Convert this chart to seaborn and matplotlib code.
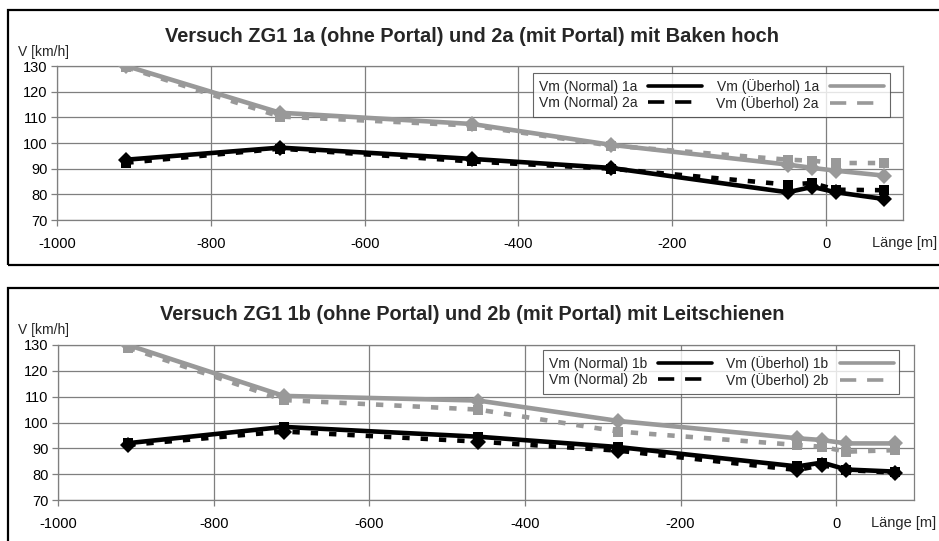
import matplotlib
matplotlib.use("Agg")
import matplotlib.pyplot as plt
from matplotlib.lines import Line2D
from matplotlib.patches import Rectangle
import seaborn as sns
import pandas as pd

# ---------------- data ----------------
laenge = [-910, -710, -460, -280, -50, -18, 13, 75]

# panel a
norm_1a = [93.5, 98.2, 93.8, 90.3, 80.8, 82.9, 80.8, 78.2]
norm_2a = [92.3, 97.8, 92.8, 90.0, 83.8, 84.4, 81.8, 81.6]
uber_1a = [130.0, 111.8, 107.4, 99.3, 91.6, 90.3, 89.2, 87.3]
uber_2a = [129.5, 110.3, 106.8, 99.0, 93.5, 93.1, 92.2, 92.2]

# panel b
norm_1b = [92.0, 98.3, 94.5, 90.5, 83.0, 84.5, 81.8, 81.0]
norm_2b = [91.3, 96.5, 92.6, 89.1, 81.6, 83.5, 81.6, 80.6]
uber_1b = [130.0, 110.3, 108.5, 100.6, 93.9, 93.2, 91.9, 91.9]
uber_2b = [129.0, 108.7, 105.0, 96.5, 91.3, 90.6, 88.7, 89.3]

title_a = "Versuch ZG1 1a (ohne Portal) und 2a (mit Portal) mit Baken hoch"
title_b = "Versuch ZG1 1b (ohne Portal) und 2b (mit Portal) mit Leitschienen"
labels_a = ["Vm (Normal) 1a", "Vm (Normal) 2a", "Vm (Überhol) 1a", "Vm (Überhol) 2a"]
labels_b = ["Vm (Normal) 1b", "Vm (Normal) 2b", "Vm (Überhol) 1b", "Vm (Überhol) 2b"]
x_ticks = [-1000, -800, -600, -400, -200, 0]
y_ticks = [70, 80, 90, 100, 110, 120, 130]

# ---------------- style ----------------
sns.set_theme(style="white")
plt.rcParams["font.family"] = ["Liberation Sans", "DejaVu Sans"]

BLACK = "#000000"
GRAY = "#999999"
GRIDC = "#7f7f7f"
DOT = (0, (1.6, 2.4))
LW = 3.3

fig = plt.figure(figsize=(9.39, 5.41), dpi=100)
W, H = 939, 541


def fx(px):
    return px / W


def fy(py):
    return 1 - py / H


# outer frames
fig.patches.append(Rectangle((fx(8), fy(265)), 1.2, fy(10) - fy(265), transform=fig.transFigure,
                             fill=False, edgecolor="black", linewidth=1.6, zorder=0))
fig.patches.append(Rectangle((fx(8), -0.2), 1.2, fy(288) + 0.2, transform=fig.transFigure,
                             fill=False, edgecolor="black", linewidth=1.6, zorder=0))


def panel(rect, series, labels, title, title_y, vlabel_y, laenge_frac, legend_bbox,
          markers):
    ax = fig.add_axes(rect)
    styles = ["-", DOT, "-", DOT]
    colors = [BLACK, BLACK, GRAY, GRAY]
    for vals, lab, ls, col, mk in zip(series, labels, styles, colors, markers):
        df = pd.DataFrame({"Länge": laenge, "V": vals})
        ms = 8 if mk == "D" else 6.5
        sns.lineplot(data=df, x="Länge", y="V", ax=ax, color=col, linestyle=ls,
                     linewidth=LW, marker=mk, markersize=ms, markeredgewidth=0,
                     markerfacecolor=col, legend=False, zorder=3, sort=False)
    ax.set_xlim(-1000, 100)
    ax.set_ylim(70, 130)
    ax.set_xticks(x_ticks)
    ax.set_yticks(y_ticks)
    ax.set_xticklabels([str(t) for t in x_ticks])
    ax.set_xlabel("")
    ax.set_ylabel("")
    ax.grid(True, color=GRIDC, linewidth=0.9)
    for s in ax.spines.values():
        s.set_color(GRIDC)
        s.set_linewidth(0.9)
    ax.tick_params(axis="both", which="both", length=4, width=0.9, color=GRIDC,
                   labelsize=10.5, labelcolor="black", direction="out")
    ax.tick_params(axis="x", pad=8, bottom=True)
    ax.tick_params(axis="y", pad=3, left=True)
    ax.annotate("Länge [m]", xy=(laenge_frac, 0), xycoords="axes fraction",
                xytext=(0, -16.5), textcoords="offset points", ha="center", va="center",
                fontsize=10.5)
    fig.text(fx(18), fy(vlabel_y), "V [km/h]", ha="left", va="center", fontsize=10)
    fig.text(fx(472), fy(title_y), title, ha="center", va="center", fontsize=14.4,
             fontweight="bold")
    handles = [Line2D([], [], color=BLACK, lw=2.6),
               Line2D([], [], color=BLACK, lw=2.6, linestyle=(0, (4.5, 3))),
               Line2D([], [], color=GRAY, lw=2.6),
               Line2D([], [], color=GRAY, lw=2.6, linestyle=(0, (4.5, 3)))]
    leg = ax.legend(handles, labels, ncol=2, loc="upper left", bbox_to_anchor=legend_bbox,
                    bbox_transform=fig.transFigure, markerfirst=False, fontsize=10,
                    handlelength=3.9, handletextpad=0.8, columnspacing=1.0,
                    frameon=True, fancybox=False, borderpad=0.4, labelspacing=0.2,
                    borderaxespad=0)
    leg.get_frame().set_edgecolor("#404040")
    leg.get_frame().set_linewidth(0.8)
    leg.set_zorder(5)
    return ax


panel([fx(57), fy(220), fx(903) - fx(57), fy(66) - fy(220)],
      [norm_1a, norm_2a, uber_1a, uber_2a], labels_a, title_a, 37, 52, 1.002,
      (fx(533), fy(73)), ["D", "s", "D", "s"])

panel([fx(58), fy(500), fx(914) - fx(58), fy(345) - fy(500)],
      [norm_1b, norm_2b, uber_1b, uber_2b], labels_b, title_b, 315, 330, 0.988,
      (fx(543), fy(350)), ["s", "D", "D", "s"])

fig.savefig("out.png", dpi=100)
